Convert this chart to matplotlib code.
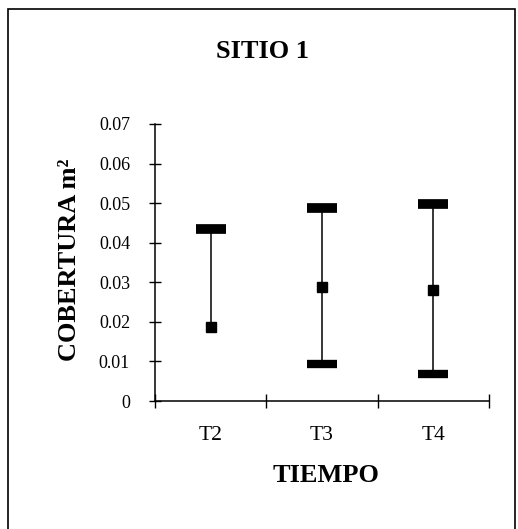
import numpy as np
import matplotlib
matplotlib.use('Agg')
import matplotlib.pyplot as plt
from matplotlib.patches import Rectangle

tiempos = ['T2', 'T3', 'T4']
medias = [0.0188, 0.0289, 0.0281]
superior = [0.0435, 0.0488, 0.0498]
inferior = [np.nan, 0.0093, 0.0068]   # T2 has no lower bar

plt.rcParams['font.family'] = ['Liberation Serif', 'DejaVu Serif']

fig = plt.figure(figsize=(5.18, 5.29), dpi=100)
ax = fig.add_axes([155/518, 1 - 401/529, (489 - 155)/518, (401 - 124)/529])

x = np.arange(len(tiempos))
low = np.where(np.isnan(inferior), medias, inferior)
ax.vlines(x, low, superior, color='black', lw=1.1)
ax.plot(x, superior, linestyle='none', marker='_', ms=22, mew=7, color='black')
ax.plot(x, inferior, linestyle='none', marker='_', ms=22, mew=6, color='black')
ax.plot(x, medias, linestyle='none', marker='s', ms=7, color='black')

ax.set_xlim(-0.5, 2.5)
ax.set_ylim(0, 0.07)
ax.set_yticks(np.arange(0, 0.071, 0.01))
ax.set_yticklabels(['0'] + ['%.2f' % v for v in np.arange(0.01, 0.071, 0.01)])
ax.set_xticks([-0.5, 0.5, 1.5, 2.5])
ax.set_xticklabels([])
ax.set_xticks(x, minor=True)
ax.set_xticklabels(tiempos, minor=True)
ax.tick_params(axis='y', direction='inout', length=8, width=1, labelsize=13, pad=14)
ax.tick_params(axis='x', which='major', direction='inout', length=10, width=1)
ax.tick_params(axis='x', which='minor', length=0, labelsize=15.5, pad=18)

for s in ['top', 'right']:
    ax.spines[s].set_visible(False)
for s in ['left', 'bottom']:
    ax.spines[s].set_linewidth(1.1)

fig.text(262/518, 1 - 52/529, 'SITIO 1', ha='center', va='center',
         fontsize=19, fontweight='bold')
fig.text(326/518, 1 - 475/529, 'TIEMPO', ha='center', va='center',
         fontsize=19, fontweight='bold')
fig.text(70/518, 1 - 260/529, 'COBERTURA m²', ha='center', va='center',
         rotation=90, fontsize=19, fontweight='bold')

# frame around the whole chart (scanned box)
fig.patches.append(Rectangle((8/518, -0.02), (515 - 8)/518, 1.02 - 9/529,
                             transform=fig.transFigure, fill=False,
                             edgecolor='black', lw=1.2))

fig.savefig('out.png', dpi=100)
